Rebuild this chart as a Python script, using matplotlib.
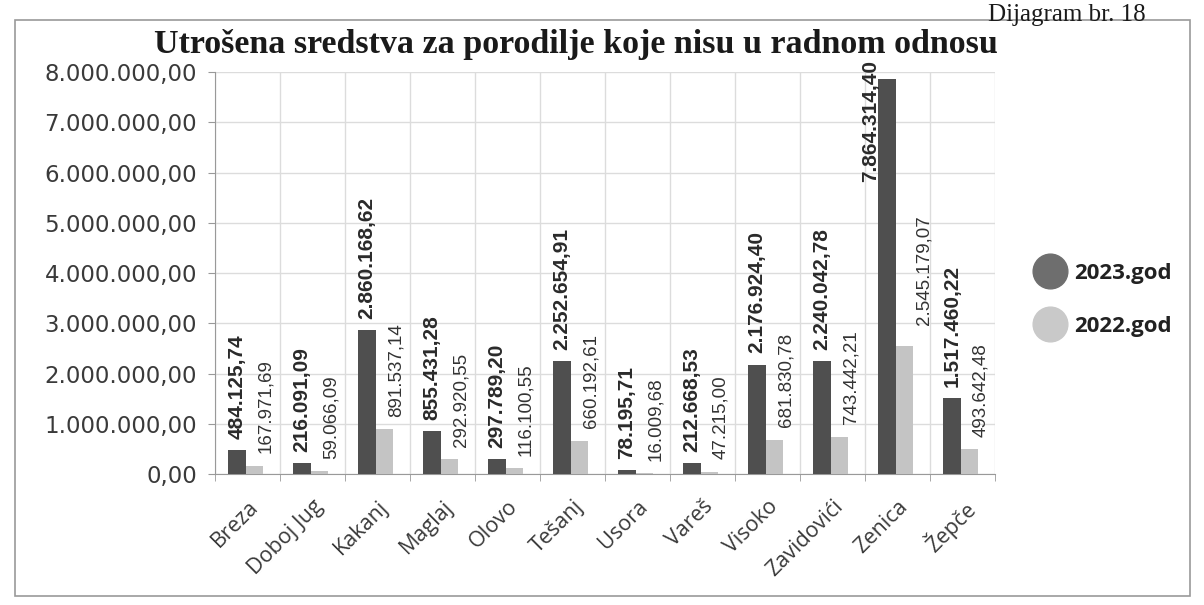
import matplotlib
matplotlib.use("Agg")
import matplotlib.pyplot as plt
from matplotlib.lines import Line2D
from matplotlib.patches import Rectangle
import numpy as np

categories = ["Breza", "Doboj Jug", "Kakanj", "Maglaj", "Olovo", "Tešanj", "Usora",
              "Vareš", "Visoko", "Zavidovići", "Zenica", "Žepče"]
values_2023 = [484125.74, 216091.09, 2860168.62, 855431.28, 297789.20, 2252654.91,
               78195.71, 212668.53, 2176924.40, 2240042.78, 7864314.40, 1517460.22]
values_2022 = [167971.69, 59066.09, 891537.14, 292920.55, 116100.55, 660192.61,
               16009.68, 47215.00, 681830.78, 743442.21, 2545179.07, 493642.48]
series_names = ["2023.god", "2022.god"]
y_ticks = [0, 1e6, 2e6, 3e6, 4e6, 5e6, 6e6, 7e6, 8e6]
title = "Utrošena sredstva za porodilje koje nisu u radnom odnosu"
caption = "Dijagram br. 18"

# manual label nudges (points) as in the original
label_shift = {("2023", 10): (-12, 0), ("2022", 10): (6, 6)}


def fmt(v):
    s = f"{v:,.2f}"
    return s.replace(",", "X").replace(".", ",").replace("X", ".")


c23 = "#4f4f4f"
c22 = "#c4c4c4"
txt = "#3a3a3a"

fig = plt.figure(figsize=(12.04, 6.05), dpi=100)
fig.patch.set_facecolor("white")
ax = fig.add_axes([215 / 1204, 1 - 474 / 605, (995 - 215) / 1204, (474 - 72) / 605])

x = np.arange(len(categories))
w = 0.27
ax.bar(x - 0.16, values_2023, w, color=c23, zorder=3)
ax.bar(x + 0.11, values_2022, w, color=c22, zorder=3)

ax.set_xlim(-0.5, len(categories) - 0.5)
ax.set_ylim(0, 8e6)
ax.set_yticks(y_ticks)
ax.set_yticklabels([fmt(v) for v in y_ticks], fontsize=16.5, color=txt,
                   family="DejaVu Sans")
ax.set_xticks(x)
ax.set_xticklabels(categories, rotation=45, ha="right", rotation_mode="anchor",
                   fontsize=15.5, color=txt, family="Open Sans")
ax.set_xticks(np.arange(-0.5, len(categories)), minor=True)
ax.tick_params(axis="x", which="major", length=0, pad=16)
ax.tick_params(axis="x", which="minor", length=5, color="#999999")
ax.tick_params(axis="y", length=5, color="#999999", pad=8)
ax.grid(axis="y", color="#dcdcdc", lw=1, zorder=0)
ax.grid(axis="x", which="minor", color="#dcdcdc", lw=1, zorder=0)
for s in ["top", "right"]:
    ax.spines[s].set_visible(False)
for s in ["left", "bottom"]:
    ax.spines[s].set_color("#999999")

ymax = ax.get_ylim()[1]
for i, (v23, v22) in enumerate(zip(values_2023, values_2022)):
    dx, dy = label_shift.get(("2023", i), (0, 0))
    if v23 > 0.8 * ymax:
        ax.annotate(fmt(v23), (x[i] - 0.16, ymax), xytext=(dx, 9 + dy),
                    textcoords="offset points", rotation=90, ha="center", va="top",
                    fontsize=15, fontweight="bold", color="#2a2a2a",
                    family="Liberation Sans", zorder=5)
    else:
        ax.annotate(fmt(v23), (x[i] - 0.16, v23), xytext=(dx, 8 + dy),
                    textcoords="offset points", rotation=90, ha="center", va="bottom",
                    fontsize=15, fontweight="bold", color="#2a2a2a",
                    family="Liberation Sans", zorder=5)
    dx, dy = label_shift.get(("2022", i), (0, 0))
    ax.annotate(fmt(v22), (x[i] + 0.11, v22), xytext=(8 + dx, 9 + dy),
                textcoords="offset points", rotation=90, ha="center", va="bottom",
                fontsize=13.5, color="#333333", family="Liberation Sans", zorder=5)

# legend
handles = [Line2D([], [], marker="o", ls="", markersize=25, color="#6e6e6e"),
           Line2D([], [], marker="o", ls="", markersize=25, color="#c9c9c9")]
fig.legend(handles, series_names, loc="center left", bbox_to_anchor=(1012 / 1204, 1 - 300 / 605),
           frameon=False, prop={"family": "Open Sans", "weight": "bold", "size": 16},
           labelcolor="#222222", handletextpad=0.3, labelspacing=1.45, handlelength=1.6)

fig.text(0.478, 1 - 45 / 605, title, ha="center", va="center", fontsize=24.5,
         fontweight="bold", family="Liberation Serif", color="#1a1a1a")
fig.text(1067 / 1204, 1 - 15 / 605, caption, ha="center", va="center", fontsize=18,
         family="Liberation Serif", color="#1a1a1a")

fig.add_artist(Rectangle((15 / 1204, 1 - 596 / 605), (1190 - 15) / 1204, (596 - 20) / 605,
                         transform=fig.transFigure, fill=False, ec="#9a9a9a", lw=1.2))

fig.savefig("out.png", dpi=100, facecolor="white")
